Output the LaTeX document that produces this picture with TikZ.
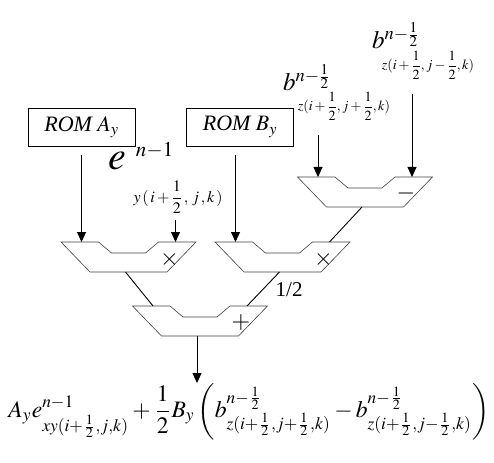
\documentclass[tikz,border=0pt]{standalone}
\usepackage{amsmath}
\usepackage{mathptmx}
\usepackage{fontspec}
\setmainfont{Liberation Serif}
\usetikzlibrary{arrows.meta}
\newcommand{\lowsub}[1]{\raisebox{-3.5pt}{$\scriptstyle #1$}}
\tikzset{
  alu/.pic={
    \draw[aluline] (-67.5,0) -- (-30,0) -- (-17,11) -- (17,11) -- (30,0)
      -- (67.5,0) -- (38.5,30) -- (-38.5,30) -- cycle;
    \node[opsym] (-op) at (41,17) {#1};
    \coordinate (-a) at (-47,0);
    \coordinate (-b) at (47,0);
    \coordinate (-o) at (-3,30);
  }
}
\begin{document}
\begin{tikzpicture}[x=1pt,y=-1pt,
  aluline/.style={draw=black!75,line width=0.6pt},
  opsym/.style={inner sep=0pt,font=\fontsize{24}{24}\selectfont},
  wire/.style={line width=0.9pt},
  sig/.style={wire,-{Triangle[length=10pt,width=9pt]}},
  rom/.style={draw,line width=0.8pt,minimum width=107pt,minimum height=38pt,
    inner sep=0pt,font=\fontsize{22}{24}\selectfont\itshape},
  lbl/.style={inner sep=0pt}]
  \useasboundingbox (0,0) rectangle (494,462);
  % ALUs
  \pic (lmul) at (128.5,242) {alu={$\times$}};
  \pic (rmul) at (282.5,242) {alu={$\times$}};
  \pic (sub) at (365,177) {alu={$-$}};
  \pic (add) at (200,306) {alu={$+$}};
  % inputs
  \node[rom] (romA) at (81.5,127) {ROM $A_y$};
  \node[rom] (romB) at (240,127) {ROM $B_y$};
  \node[lbl,anchor=base west,font=\fontsize{40}{42}\selectfont] (eBase) at (108,170)
    {$e$\hspace{10pt}\raisebox{13pt}{\fontsize{21}{22}\selectfont$n{-}1$}};
  \node[lbl,font=\fontsize{16}{18}\selectfont] (eSub) at (178,197) {$y\,(\,i+\dfrac{1}{2}\,,\,j\,,k\,)$};
  \node[lbl,anchor=base west,font=\fontsize{25}{27}\selectfont] (bpBase) at (283,91) {$b^{n-\frac{1}{2}}$};
  \node[lbl,font=\fontsize{14}{16}\selectfont] (bpSub) at (344,106) {$z(i+\dfrac{1}{2},j+\dfrac{1}{2},k)$};
  \node[lbl,anchor=base west,font=\fontsize{25}{27}\selectfont] (bmBase) at (372,49) {$b^{n-\frac{1}{2}}$};
  \node[lbl,font=\fontsize{14}{16}\selectfont] (bmSub) at (428,65) {$z(i+\dfrac{1}{2},j-\dfrac{1}{2},k)$};
  \draw[sig] ([yshift=-9pt]lmul-a |- romA.south) -- (lmul-a);
  \draw[sig] ([yshift=-7pt]lmul-b |- eSub.south) -- (lmul-b);
  \draw[sig] ([yshift=-9pt]rmul-a |- romB.south) -- (rmul-a);
  \draw[sig] ([yshift=-15pt]sub-a |- bpSub.south) -- (sub-a);
  \draw[sig] ([yshift=-15pt]sub-b |- bmSub.south) -- (sub-b);
  % internal wires
  \draw[wire] (sub-o) -- (rmul-b);
  \draw[wire] (lmul-o) -- (add-a);
  \draw[wire] (rmul-o) -- node[lbl,anchor=west,xshift=12pt,yshift=-1pt,
    font=\fontsize{21}{24}\selectfont] (half) {1/2} (add-b);
  % result
  \node[lbl,anchor=north] (res) at (249,383) {\resizebox{481pt}{!}{$\displaystyle
    A_y e^{n-1}_{\lowsub{xy(i+\frac{1}{2},j,k)}} + \frac{1}{2} B_y
    \left( b^{n-\frac{1}{2}}_{\lowsub{z(i+\frac{1}{2},j+\frac{1}{2},k)}}
    - b^{n-\frac{1}{2}}_{\lowsub{z(i+\frac{1}{2},j-\frac{1}{2},k)}} \right)$}};
  \draw[sig] (add-o) -- (add-o |- res.north);
\end{tikzpicture}
\end{document}
